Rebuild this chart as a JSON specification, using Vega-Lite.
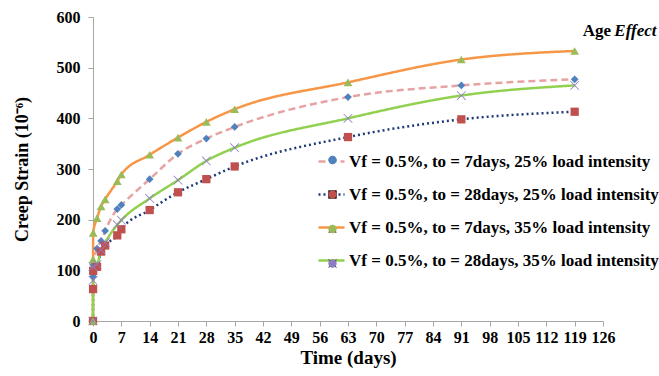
{
  "$schema": "https://vega.github.io/schema/vega-lite/v6.json",
  "width": 510,
  "height": 304,
  "autosize": {"type": "none"},
  "padding": {"left": 93, "top": 17, "right": 56, "bottom": 55},
  "background": "white",
  "config": {
    "view": {"stroke": null},
    "font": "Liberation Serif",
    "axis": {
      "domainColor": "#a6a6a6",
      "tickColor": "#a6a6a6",
      "grid": false,
      "labelFont": "Liberation Serif",
      "labelFontWeight": "bold",
      "labelFontSize": 16,
      "labelColor": "black",
      "labelFlush": false,
      "titleFont": "Liberation Serif",
      "titleFontWeight": "bold",
      "titleFontSize": 18,
      "titleColor": "black",
      "tickSize": 5
    },
    "legend": {
      "labelFont": "Liberation Serif",
      "labelFontWeight": "bold",
      "labelFontSize": 17,
      "labelColor": "black",
      "labelLimit": 0
    }
  },
  "data": {
    "values": [
      {"s": "Vf = 0.5%, to = 7days, 25% load intensity", "t": 0, "v": 0},
      {"s": "Vf = 0.5%, to = 7days, 25% load intensity", "t": 0.02, "v": 88},
      {"s": "Vf = 0.5%, to = 7days, 25% load intensity", "t": 0.04, "v": 111},
      {"s": "Vf = 0.5%, to = 7days, 25% load intensity", "t": 1, "v": 143},
      {"s": "Vf = 0.5%, to = 7days, 25% load intensity", "t": 2, "v": 158},
      {"s": "Vf = 0.5%, to = 7days, 25% load intensity", "t": 3, "v": 178},
      {"s": "Vf = 0.5%, to = 7days, 25% load intensity", "t": 6, "v": 221},
      {"s": "Vf = 0.5%, to = 7days, 25% load intensity", "t": 7, "v": 229},
      {"s": "Vf = 0.5%, to = 7days, 25% load intensity", "t": 14, "v": 280},
      {"s": "Vf = 0.5%, to = 7days, 25% load intensity", "t": 21, "v": 330},
      {"s": "Vf = 0.5%, to = 7days, 25% load intensity", "t": 28, "v": 360},
      {"s": "Vf = 0.5%, to = 7days, 25% load intensity", "t": 35, "v": 383},
      {"s": "Vf = 0.5%, to = 7days, 25% load intensity", "t": 63, "v": 442},
      {"s": "Vf = 0.5%, to = 7days, 25% load intensity", "t": 91, "v": 465},
      {"s": "Vf = 0.5%, to = 7days, 25% load intensity", "t": 119, "v": 477},
      {"s": "Vf = 0.5%, to = 28days, 25% load intensity", "t": 0, "v": 0},
      {"s": "Vf = 0.5%, to = 28days, 25% load intensity", "t": 0.02, "v": 63},
      {"s": "Vf = 0.5%, to = 28days, 25% load intensity", "t": 0.04, "v": 99},
      {"s": "Vf = 0.5%, to = 28days, 25% load intensity", "t": 1, "v": 107},
      {"s": "Vf = 0.5%, to = 28days, 25% load intensity", "t": 2, "v": 137},
      {"s": "Vf = 0.5%, to = 28days, 25% load intensity", "t": 3, "v": 149},
      {"s": "Vf = 0.5%, to = 28days, 25% load intensity", "t": 6, "v": 169},
      {"s": "Vf = 0.5%, to = 28days, 25% load intensity", "t": 7, "v": 181},
      {"s": "Vf = 0.5%, to = 28days, 25% load intensity", "t": 14, "v": 219},
      {"s": "Vf = 0.5%, to = 28days, 25% load intensity", "t": 21, "v": 254},
      {"s": "Vf = 0.5%, to = 28days, 25% load intensity", "t": 28, "v": 280},
      {"s": "Vf = 0.5%, to = 28days, 25% load intensity", "t": 35, "v": 305},
      {"s": "Vf = 0.5%, to = 28days, 25% load intensity", "t": 63, "v": 363},
      {"s": "Vf = 0.5%, to = 28days, 25% load intensity", "t": 91, "v": 398},
      {"s": "Vf = 0.5%, to = 28days, 25% load intensity", "t": 119, "v": 413},
      {"s": "Vf = 0.5%, to = 7days, 35% load intensity", "t": 0, "v": 0},
      {"s": "Vf = 0.5%, to = 7days, 35% load intensity", "t": 0.02, "v": 122},
      {"s": "Vf = 0.5%, to = 7days, 35% load intensity", "t": 0.04, "v": 174},
      {"s": "Vf = 0.5%, to = 7days, 35% load intensity", "t": 1, "v": 203},
      {"s": "Vf = 0.5%, to = 7days, 35% load intensity", "t": 2, "v": 226},
      {"s": "Vf = 0.5%, to = 7days, 35% load intensity", "t": 3, "v": 240},
      {"s": "Vf = 0.5%, to = 7days, 35% load intensity", "t": 6, "v": 276},
      {"s": "Vf = 0.5%, to = 7days, 35% load intensity", "t": 7, "v": 289},
      {"s": "Vf = 0.5%, to = 7days, 35% load intensity", "t": 14, "v": 328},
      {"s": "Vf = 0.5%, to = 7days, 35% load intensity", "t": 21, "v": 362},
      {"s": "Vf = 0.5%, to = 7days, 35% load intensity", "t": 28, "v": 393},
      {"s": "Vf = 0.5%, to = 7days, 35% load intensity", "t": 35, "v": 418},
      {"s": "Vf = 0.5%, to = 7days, 35% load intensity", "t": 63, "v": 471},
      {"s": "Vf = 0.5%, to = 7days, 35% load intensity", "t": 91, "v": 516},
      {"s": "Vf = 0.5%, to = 7days, 35% load intensity", "t": 119, "v": 533},
      {"s": "Vf = 0.5%, to = 28days, 35% load intensity", "t": 0, "v": 0},
      {"s": "Vf = 0.5%, to = 28days, 35% load intensity", "t": 0.02, "v": 80},
      {"s": "Vf = 0.5%, to = 28days, 35% load intensity", "t": 0.04, "v": 107},
      {"s": "Vf = 0.5%, to = 28days, 35% load intensity", "t": 1, "v": 112},
      {"s": "Vf = 0.5%, to = 28days, 35% load intensity", "t": 2, "v": 140},
      {"s": "Vf = 0.5%, to = 28days, 35% load intensity", "t": 3, "v": 155},
      {"s": "Vf = 0.5%, to = 28days, 35% load intensity", "t": 6, "v": 190},
      {"s": "Vf = 0.5%, to = 28days, 35% load intensity", "t": 7, "v": 199},
      {"s": "Vf = 0.5%, to = 28days, 35% load intensity", "t": 14, "v": 242},
      {"s": "Vf = 0.5%, to = 28days, 35% load intensity", "t": 21, "v": 278},
      {"s": "Vf = 0.5%, to = 28days, 35% load intensity", "t": 28, "v": 316},
      {"s": "Vf = 0.5%, to = 28days, 35% load intensity", "t": 35, "v": 342},
      {"s": "Vf = 0.5%, to = 28days, 35% load intensity", "t": 63, "v": 400},
      {"s": "Vf = 0.5%, to = 28days, 35% load intensity", "t": 91, "v": 445},
      {"s": "Vf = 0.5%, to = 28days, 35% load intensity", "t": 119, "v": 465}
    ]
  },
  "encoding": {
    "x": {
      "field": "t", "type": "quantitative",
      "scale": {"domain": [0, 126], "nice": false, "zero": true},
      "axis": {"values": [0,7,14,21,28,35,42,49,56,63,70,77,84,91,98,105,112,119,126], "labelAngle": 0, "labelOverlap": false, "labelPadding": 3, "title": "Time (days)", "titlePadding": 3, "titleFontSize": 19}
    },
    "y": {
      "field": "v", "type": "quantitative",
      "scale": {"domain": [0, 600], "nice": false},
      "axis": {"values": [0,100,200,300,400,500,600], "labelPadding": 8, "title": "Creep Strain (10⁻⁶)", "titlePadding": 25}
    }
  },
  "layer": [
    {
      "mark": {"type": "line", "interpolate": "monotone", "strokeWidth": 2.5},
      "encoding": {
        "stroke": {
          "field": "s", "type": "nominal",
          "scale": {
            "domain": ["Vf = 0.5%, to = 7days, 25% load intensity", "Vf = 0.5%, to = 28days, 25% load intensity", "Vf = 0.5%, to = 7days, 35% load intensity", "Vf = 0.5%, to = 28days, 35% load intensity"],
            "range": ["#e6a3a1", "#1f3a78", "#f79646", "#92d050"]
          },
          "legend": {"orient": "none", "legendX": 224, "legendY": 130, "title": null, "symbolType": "stroke", "symbolSize": 676, "symbolStrokeWidth": 2.5, "rowPadding": 10, "padding": 0, "labelOffset": 3}
        },
        "strokeDash": {
          "field": "s", "type": "nominal",
          "scale": {
            "domain": ["Vf = 0.5%, to = 7days, 25% load intensity", "Vf = 0.5%, to = 28days, 25% load intensity", "Vf = 0.5%, to = 7days, 35% load intensity", "Vf = 0.5%, to = 28days, 35% load intensity"],
            "range": [[7, 4], [2, 3], [1, 0], [1, 0]]
          },
          "legend": {"orient": "none", "legendX": 224, "legendY": 130, "title": null, "symbolType": "stroke", "symbolSize": 676, "symbolStrokeWidth": 2.5, "rowPadding": 10, "padding": 0, "labelOffset": 3}
        }
      }
    },
    {
      "mark": {"type": "point", "filled": true, "opacity": 1, "strokeWidth": 0},
      "encoding": {
        "fill": {
          "field": "s", "type": "nominal",
          "sort": ["Vf = 0.5%, to = 7days, 25% load intensity", "Vf = 0.5%, to = 28days, 25% load intensity", "Vf = 0.5%, to = 7days, 35% load intensity", "Vf = 0.5%, to = 28days, 35% load intensity"],
          "scale": {"range": ["#4f81bd", "#c0504d", "#9bbb59", "#8e7cc3"]},
          "legend": {"orient": "none", "legendX": 231, "legendY": 134.5, "title": null, "symbolSize": 70, "rowPadding": 16.5, "padding": 0, "labelOpacity": 0, "symbolStrokeWidth": 0}
        },
        "shape": {
          "field": "s", "type": "nominal",
          "sort": ["Vf = 0.5%, to = 7days, 25% load intensity", "Vf = 0.5%, to = 28days, 25% load intensity", "Vf = 0.5%, to = 7days, 35% load intensity", "Vf = 0.5%, to = 28days, 35% load intensity"],
          "scale": {"range": ["diamond", "square", "triangle-up", "M-1,-0.88L-0.88,-1L0,-0.12L0.88,-1L1,-0.88L0.12,0L1,0.88L0.88,1L0,0.12L-0.88,1L-1,0.88L-0.12,0Z"]},
          "legend": {"orient": "none", "legendX": 231, "legendY": 134.5, "title": null, "symbolSize": 70, "rowPadding": 16.5, "padding": 0, "labelOpacity": 0, "symbolStrokeWidth": 0}
        },
        "size": {
          "field": "s", "type": "nominal",
          "sort": ["Vf = 0.5%, to = 7days, 25% load intensity", "Vf = 0.5%, to = 28days, 25% load intensity", "Vf = 0.5%, to = 7days, 35% load intensity", "Vf = 0.5%, to = 28days, 35% load intensity"],
          "scale": {"range": [60, 85, 80, 80]},
          "legend": null
        }
      }
    },
    {
      "transform": [{"filter": {"and": [{"field": "t", "equal": 119}, {"field": "s", "equal": "Vf = 0.5%, to = 7days, 35% load intensity"}]}}],
      "mark": {"type": "text", "align": "right", "baseline": "middle", "fontWeight": "bold", "fontSize": 17, "font": "Liberation Serif", "clip": false},
      "encoding": {
        "x": {"datum": 128},
        "y": {"datum": 572},
        "text": {"value": "Age"}
      }
    },
    {
      "transform": [{"filter": {"and": [{"field": "t", "equal": 119}, {"field": "s", "equal": "Vf = 0.5%, to = 7days, 35% load intensity"}]}}],
      "mark": {"type": "text", "align": "left", "baseline": "middle", "fontWeight": "bold", "fontStyle": "italic", "fontSize": 17, "font": "Liberation Serif", "clip": false},
      "encoding": {
        "x": {"datum": 128.8},
        "y": {"datum": 572},
        "text": {"value": "Effect"}
      }
    }
  ]
}
